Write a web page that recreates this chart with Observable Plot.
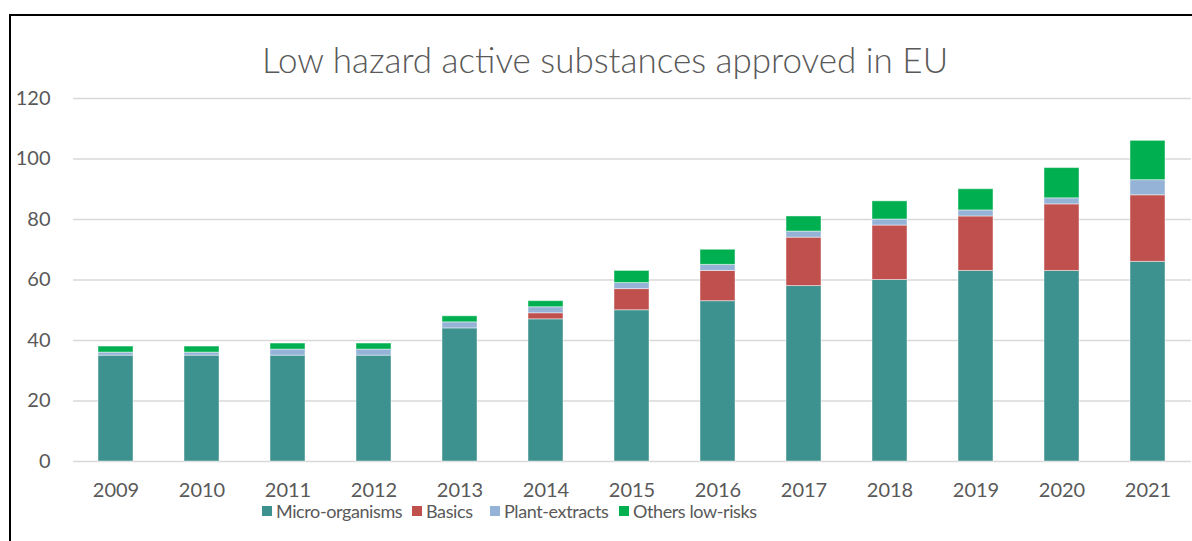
<!DOCTYPE html>
<html>
<head>
<meta charset="utf-8">
<script src="https://cdn.jsdelivr.net/npm/d3@7"></script>
<script src="https://cdn.jsdelivr.net/npm/@observablehq/plot@0.6"></script>
<style>
  html, body { margin: 0; padding: 0; background: #fff; }
  body { width: 1192px; height: 541px; overflow: hidden; position: relative; font-family: Lato, "Open Sans", sans-serif; color: #595959; }
  #frame { position: absolute; left: 9px; top: 14px; width: 1200px; height: 540px; border-left: 2px solid #000; border-top: 2px solid #000; }
  #title { position: absolute; left: 0; width: 1210px; top: 42px; text-align: center; font-size: 35px; line-height: 34px; font-weight: 300; color: #595959; }
  #chart { position: absolute; left: 0; top: 80px; }
  #legend { position: absolute; top: 503px; left: 0; width: 1192px; height: 18px; font-size: 18px; line-height: 16px; color: #595959; }
  .item { position: absolute; top: 0; display: flex; align-items: center; white-space: nowrap; letter-spacing: -0.4px; }
  .sw { width: 10px; height: 10px; margin-right: 4px; flex: none; }
</style>
</head>
<body>
<div id="frame"></div>
<div id="title">Low hazard active substances approved in EU</div>
<div id="chart"></div>
<div id="legend"></div>
<script>
const years = ["2009","2010","2011","2012","2013","2014","2015","2016","2017","2018","2019","2020","2021"];
const microOrganisms = [35, 35, 35, 35, 44, 47, 50, 53, 58, 60, 63, 63, 66];
const basics         = [0, 0, 0, 0, 0, 2, 7, 10, 16, 18, 18, 22, 22];
const plantExtracts  = [1, 1, 2, 2, 2, 2, 2, 2, 2, 2, 2, 2, 5];
const othersLowRisks = [2, 2, 2, 2, 2, 2, 4, 5, 5, 6, 7, 10, 13];
const seriesNames = ["Micro-organisms", "Basics", "Plant-extracts", "Others low-risks"];
const seriesColors = ["#3D918F", "#C0504D", "#95B3D7", "#00B050"];
const yTicks = [0, 20, 40, 60, 80, 100, 120];
const legendLeft = [262, 412, 490, 619];

const seriesValues = [microOrganisms, basics, plantExtracts, othersLowRisks];
const data = [];
years.forEach((yr, i) => {
  seriesNames.forEach((s, j) => {
    data.push({year: yr, series: s, value: seriesValues[j][i]});
  });
});

const plot = Plot.plot({
  width: 1192,
  height: 440,
  marginLeft: 73,
  marginRight: 1,
  marginTop: 18,
  marginBottom: 59,
  style: { fontFamily: "Lato, 'Open Sans', sans-serif", fontSize: "20px", color: "#595959", background: "transparent" },
  x: { domain: years, paddingInner: 0.59, paddingOuter: 0.295, label: null },
  y: { domain: [0, 120], label: null },
  color: { domain: seriesNames, range: seriesColors },
  marks: [
    Plot.ruleY(yTicks, { stroke: "#D9D9D9", strokeWidth: 1.5 }),
    Plot.barY(data, Plot.stackY({ x: "year", y: "value", fill: "series", order: seriesNames, filter: d => d.value > 0, stroke: "#fff", strokeOpacity: 0.45, strokeWidth: 1 })),
    Plot.axisX({ tickSize: 0, tickPadding: 21, fontSize: 20, fill: "#595959", label: null }),
    Plot.axisY({ ticks: yTicks, tickSize: 0, tickPadding: 23, fontSize: 20, fill: "#595959", label: null })
  ]
});
document.getElementById("chart").appendChild(plot);

const legend = document.getElementById("legend");
seriesNames.forEach((s, j) => {
  const it = document.createElement("div");
  it.className = "item";
  it.style.left = legendLeft[j] + "px";
  const sw = document.createElement("span");
  sw.className = "sw";
  sw.style.background = seriesColors[j];
  const t = document.createElement("span");
  t.textContent = s;
  it.appendChild(sw);
  it.appendChild(t);
  legend.appendChild(it);
});
</script>
</body>
</html>
